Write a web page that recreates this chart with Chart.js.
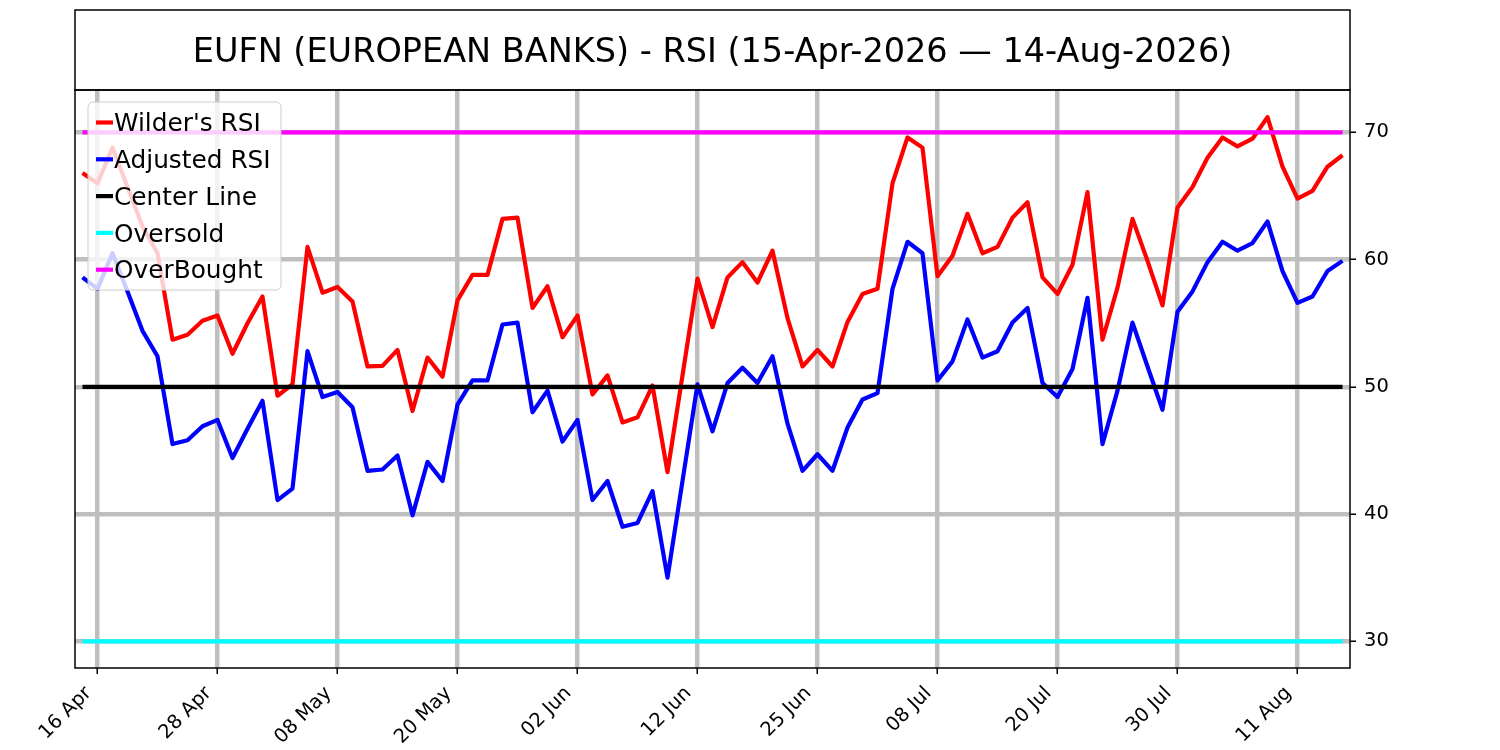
<!DOCTYPE html>
<html>
<head>
<meta charset="utf-8">
<title>EUFN RSI</title>
<script src="https://cdn.jsdelivr.net/npm/chart.js@4.4.1/dist/chart.umd.min.js"></script>
<style>
	html, body { margin: 0; padding: 0; background: #fff; }
	#wrap { width: 1500px; height: 750px; position: relative; }
</style>
</head>
<body>
<div id="wrap"><canvas id="rsiChart"></canvas></div>
<script>
var chartTitle = "EUFN (EUROPEAN BANKS) - RSI (15-Apr-2026 \u2014 14-Aug-2026)";

// trading days, 15-Apr-2026 .. 14-Aug-2026
var dates = [
	"15 Apr", "16 Apr", "17 Apr", "20 Apr", "21 Apr", "22 Apr", "23 Apr", "24 Apr", "27 Apr", "28 Apr", "29 Apr", "30 Apr",
	"01 May", "04 May", "05 May", "06 May", "07 May", "08 May", "11 May", "12 May", "13 May", "14 May", "15 May", "18 May",
	"19 May", "20 May", "21 May", "22 May", "26 May", "27 May", "28 May", "29 May",
	"01 Jun", "02 Jun", "03 Jun", "04 Jun", "05 Jun", "08 Jun", "09 Jun", "10 Jun", "11 Jun", "12 Jun", "15 Jun", "16 Jun",
	"17 Jun", "18 Jun", "22 Jun", "23 Jun", "24 Jun", "25 Jun", "26 Jun", "29 Jun", "30 Jun",
	"01 Jul", "02 Jul", "06 Jul", "07 Jul", "08 Jul", "09 Jul", "10 Jul", "13 Jul", "14 Jul", "15 Jul", "16 Jul", "17 Jul",
	"20 Jul", "21 Jul", "22 Jul", "23 Jul", "24 Jul", "27 Jul", "28 Jul", "29 Jul", "30 Jul", "31 Jul",
	"03 Aug", "04 Aug", "05 Aug", "06 Aug", "07 Aug", "10 Aug", "11 Aug", "12 Aug", "13 Aug", "14 Aug"
];

var wildersRsi = [
	66.8, 66.0, 68.8, 65.7, 62.6, 60.5, 53.7, 54.1, 55.2, 55.6, 52.6, 55.0, 57.1, 49.3, 50.2, 61.0, 57.4,
	57.85, 56.7, 51.6, 51.65, 52.9, 48.1, 52.3, 50.8, 56.8, 58.8, 58.8, 63.2, 63.3, 56.2, 57.9, 53.9, 55.6,
	49.4, 50.9, 47.2, 47.6, 50.1, 43.3, 50.9, 58.5, 54.7, 58.6, 59.8, 58.2, 60.7, 55.4, 51.6, 52.9, 51.6,
	55.1, 57.3, 57.7, 66.0, 69.6, 68.8, 58.7, 60.3, 63.6, 60.5, 61.0, 63.3, 64.5, 58.6, 57.3, 59.6, 65.3,
	53.7, 57.8, 63.2, 59.9, 56.4, 64.1, 65.7, 68.0, 69.6, 68.9, 69.5, 71.2, 67.3, 64.8, 65.4, 67.3, 68.2
];

var adjustedRsi = [
	58.6, 57.7, 60.5, 57.5, 54.4, 52.4, 45.5, 45.8, 46.9, 47.4, 44.4, 46.7, 48.9, 41.1, 42.0, 52.8, 49.2,
	49.6, 48.4, 43.4, 43.5, 44.6, 39.9, 44.1, 42.6, 48.6, 50.5, 50.5, 54.9, 55.05, 48.0, 49.7, 45.7, 47.4,
	41.1, 42.6, 39.0, 39.3, 41.8, 35.0, 42.6, 50.2, 46.5, 50.3, 51.5, 50.3, 52.4, 47.1, 43.4, 44.7, 43.4,
	46.8, 49.0, 49.5, 57.7, 61.4, 60.5, 50.5, 52.0, 55.3, 52.3, 52.8, 55.05, 56.2, 50.3, 49.2, 51.4, 57.0,
	45.5, 49.7, 55.05, 51.6, 48.2, 55.9, 57.5, 59.8, 61.4, 60.7, 61.3, 63.0, 59.1, 56.6, 57.1, 59.1, 59.9
];

var centerLine = 50;
var oversold = 30;
var overbought = 70;

var tickLabels = ["16 Apr", "28 Apr", "08 May", "20 May", "02 Jun", "12 Jun", "25 Jun", "08 Jul", "20 Jul", "30 Jul", "11 Aug"];
var yTicks = [30, 40, 50, 60, 70];

var FONT = "'DejaVu Sans', sans-serif";
var GRID = "#bfbfbf";

function levelLine(v) {
	return [{ x: dates[0], y: v }, { x: dates[dates.length - 1], y: v }];
}

function lineSet(label, data, color, order) {
	return {
		label: label,
		data: data,
		borderColor: color,
		backgroundColor: color,
		borderWidth: 4.2,
		pointRadius: 0,
		borderJoinStyle: "round",
		tension: 0,
		order: order
	};
}

// title box, frame round the plot and the legend box (matplotlib look)
var framePlugin = {
	id: "frame",
	afterDraw: function(chart) {
		var ctx = chart.ctx;
		var a = chart.chartArea;
		ctx.save();
		ctx.strokeStyle = "#000";
		ctx.lineWidth = 1.5;
		ctx.strokeRect(a.left, 10, a.right - a.left, a.top - 10);
		ctx.strokeRect(a.left, a.top, a.right - a.left, a.bottom - a.top);

		ctx.fillStyle = "#000";
		ctx.font = "33.5px " + FONT;
		ctx.textAlign = "center";
		ctx.textBaseline = "alphabetic";
		ctx.fillText(chartTitle, (a.left + a.right) / 2, 62);

		// legend
		var lx = a.left + 13, ly = a.top + 12, lw = 193, lh = 188;
		ctx.beginPath();
		ctx.roundRect(lx, ly, lw, lh, 5);
		ctx.fillStyle = "rgba(255,255,255,0.8)";
		ctx.fill();
		ctx.strokeStyle = "#cccccc";
		ctx.lineWidth = 1;
		ctx.stroke();

		ctx.font = "24.8px " + FONT;
		ctx.textAlign = "left";
		chart.data.datasets.forEach(function(ds, k) {
			var cy = ly + 20.5 + k * 36.8;
			ctx.strokeStyle = ds.borderColor;
			ctx.lineWidth = 4.2;
			ctx.beginPath();
			ctx.moveTo(lx + 8, cy);
			ctx.lineTo(lx + 25, cy);
			ctx.stroke();
			ctx.fillStyle = "#000";
			ctx.fillText(ds.label, lx + 26, cy + 8.7);
		});
		ctx.restore();
	}
};

var ctx = document.getElementById("rsiChart").getContext("2d");
var rsiChart = new Chart(ctx, {
	type: "line",
	data: {
		labels: dates,
		datasets: [
			lineSet("Wilder's RSI", wildersRsi, "#ff0000", 4),
			lineSet("Adjusted RSI", adjustedRsi, "#0000ff", 3),
			lineSet("Center Line", levelLine(centerLine), "#000000", 2),
			lineSet("Oversold", levelLine(oversold), "#00ffff", 1),
			lineSet("OverBought", levelLine(overbought), "#ff00ff", 0)
		]
	},
	options: {
		responsive: true,
		maintainAspectRatio: false,
		animation: false,
		layout: { padding: { top: 90, left: 75, right: 0, bottom: 0 } },
		plugins: {
			legend: { display: false },
			title: { display: false },
			tooltip: { enabled: false }
		},
		scales: {
			x: {
				type: "category",
				offset: true,
				afterBuildTicks: function(scale) {
					scale.ticks = scale.ticks.filter(function(t) {
						return tickLabels.indexOf(dates[t.value]) >= 0;
					});
				},
				afterFit: function(scale) { scale.height = 82; },
				grid: {
					offset: false,
					color: GRID,
					lineWidth: 4.5,
					tickColor: "#000",
					tickLength: 6,
					tickWidth: 1.5
				},
				border: { display: false },
				ticks: {
					autoSkip: false,
					minRotation: 45,
					maxRotation: 45,
					padding: 8,
					labelOffset: -9,
					color: "#000",
					font: { family: FONT, size: 19.5 }
				}
			},
			y: {
				position: "right",
				min: 27.9,
				max: 73.33,
				afterBuildTicks: function(scale) {
					scale.ticks = yTicks.map(function(v) { return { value: v }; });
				},
				afterFit: function(scale) { scale.width = 150; },
				grid: {
					color: GRID,
					lineWidth: 4.5,
					tickColor: "#000",
					tickLength: 6,
					tickWidth: 1.5
				},
				border: { display: false },
				ticks: {
					padding: 8,
					color: "#000",
					font: { family: FONT, size: 19.5 }
				}
			}
		}
	},
	plugins: [framePlugin]
});
</script>
</body>
</html>
